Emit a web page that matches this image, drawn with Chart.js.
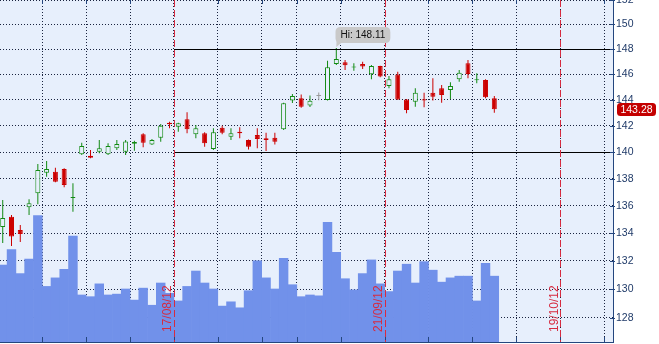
<!DOCTYPE html>
<html><head><meta charset="utf-8">
<script src="https://cdn.jsdelivr.net/npm/chart.js@4/dist/chart.umd.min.js"></script>
<style>html,body{margin:0;padding:0;background:#fff;overflow:hidden}#wrap{width:659px;height:344px;position:relative}</style>
</head><body><div id="wrap"><canvas id="c" width="659" height="344"></canvas></div>
<script>
// ---- data (daily candles, index 0..56) ----
const opens  = [134.44,135.19,134.22,135.88,136.91,138.45,138.52,138.72,136.56,139.83,139.72,140.02,139.83,140.28,140.02,140.63,141.35,140.58,141.09,142.24,141.93,142.50,141.35,141.43,140.23,141.86,141.17,141.55,140.91,141.30,141.04,141.09,141.73,143.95,144.13,143.56,144.31,144.00,146.83,146.97,146.55,146.83,146.01,146.67,145.09,145.99,144.03,143.87,144.05,144.57,144.91,144.78,145.62,146.88,145.54,145.56,144.13];
const highs  = [136.42,135.31,134.58,136.47,139.10,139.32,138.82,138.78,137.65,140.71,140.15,140.91,140.66,140.91,140.91,140.86,141.43,140.99,142.14,142.32,142.24,143.04,142.06,141.50,141.81,142.01,141.81,141.89,140.96,141.81,141.47,141.47,143.79,144.47,144.43,144.35,144.59,147.09,148.11,147.15,146.88,147.01,146.75,146.69,145.87,146.21,144.08,144.91,144.57,145.70,145.17,145.38,146.35,147.15,146.09,145.62,144.31];
const lows   = [133.28,133.07,133.36,135.31,136.10,138.15,137.73,137.35,135.56,139.78,139.53,139.90,139.78,140.15,139.78,140.10,140.36,140.53,140.78,141.81,141.55,141.43,141.04,140.40,140.15,141.35,140.91,141.04,140.20,140.28,140.07,140.58,141.68,143.77,143.40,143.46,143.98,143.95,146.75,146.35,146.29,146.43,145.62,145.78,144.91,144.00,142.97,143.48,143.43,143.95,143.79,144.08,145.43,145.70,145.30,144.13,143.01];
const closes = [135.10,133.74,133.93,136.18,138.65,138.72,137.77,137.53,136.62,140.45,139.57,140.28,140.45,140.61,140.81,140.76,140.71,140.91,142.01,142.12,142.19,141.73,141.81,140.66,141.50,141.47,141.43,141.43,140.40,140.99,140.91,140.78,143.74,144.31,143.48,143.93,144.31,146.57,147.23,146.73,146.59,146.62,146.67,145.83,145.62,144.04,143.22,144.57,143.95,144.26,144.39,145.09,146.14,146.04,145.58,144.21,143.28];
const volumes = [9.0,10.8,8.0,9.7,14.8,6.5,7.5,8.5,12.4,5.5,5.3,6.8,5.5,5.6,6.2,4.9,6.3,4.3,6.9,5.7,4.8,6.5,8.3,6.9,6.2,4.2,4.7,4.0,6.0,9.5,7.5,6.2,9.8,6.7,5.3,5.5,5.4,14.0,10.5,7.4,6.1,8.0,9.6,6.8,5.9,8.3,9.1,6.9,9.4,8.4,7.0,7.5,7.7,7.7,4.8,9.2,7.7];
const priceTicks = [128,130,132,134,136,138,140,142,144,146,148,150,152];
const weekBreaks = [4.5,9.5,14.5,19.5,24.5,29.5,33.5,38.5,43.5,48.5,53.5,58.5,63.5,68.5];
const expiryBreaks = [19.5,43.5,63.5];
const expiryLabels = ['17/08/12','21/09/12','19/10/12'];
const levelLines = [148,140];
const levelStart = 19.5;

// ---- derived ----
const idx = opens.map((_, i) => i);
const dir = idx.map(i => closes[i] > opens[i] ? 'up' : (closes[i] < opens[i] ? 'down' : 'flat'));
const BG = '#e7effc';
const lineCol = {up:'#128a12', down:'#cc0000', flat:'#9a9a9a'};
const fillCol = {up:BG, down:'#cc0000', flat:'#9a9a9a'};
const NAVY = '#24467e';
const FONT = '"Liberation Sans", Arial, sans-serif';

function rr(ctx, x, y, w, h, r) {
  ctx.beginPath();
  ctx.moveTo(x + r, y); ctx.lineTo(x + w - r, y); ctx.quadraticCurveTo(x + w, y, x + w, y + r);
  ctx.lineTo(x + w, y + h - r); ctx.quadraticCurveTo(x + w, y + h, x + w - r, y + h);
  ctx.lineTo(x + r, y + h); ctx.quadraticCurveTo(x, y + h, x, y + h - r);
  ctx.lineTo(x, y + r); ctx.quadraticCurveTo(x, y, x + r, y); ctx.closePath();
}

const decor = {
  id: 'decor',
  beforeDraw(chart) {
    const {ctx, chartArea: a} = chart;
    ctx.save(); ctx.fillStyle = BG; ctx.fillRect(a.left, a.top, a.right - a.left, a.bottom - a.top); ctx.restore();
  },
  afterDraw(chart) {
    const {ctx, chartArea: a} = chart;
    const xs = chart.scales.x, ys = chart.scales.y;
    ctx.save();
    ctx.beginPath(); ctx.rect(0, 0, chart.width, chart.height); ctx.clip();
    // level lines
    ctx.strokeStyle = '#000'; ctx.lineWidth = 1;
    levelLines.forEach(v => {
      const py = Math.round(ys.getPixelForValue(v)) + 0.5;
      ctx.beginPath(); ctx.moveTo(Math.round(xs.getPixelForValue(levelStart)), py); ctx.lineTo(a.right, py); ctx.stroke();
    });
    // week tick marks top/bottom
    ctx.strokeStyle = NAVY;
    weekBreaks.forEach(v => {
      const px = Math.round(xs.getPixelForValue(v)) + 0.5;
      ctx.beginPath(); ctx.moveTo(px, a.top); ctx.lineTo(px, a.top + 4); ctx.stroke();
      ctx.beginPath(); ctx.moveTo(px, a.bottom - 5); ctx.lineTo(px, a.bottom); ctx.stroke();
    });
    // price ticks across axis
    priceTicks.forEach(v => {
      const py = Math.round(ys.getPixelForValue(v)) + 0.5;
      ctx.beginPath(); ctx.moveTo(a.right - 3, py); ctx.lineTo(a.right + 2, py); ctx.stroke();
    });
    // expiry lines
    ctx.strokeStyle = '#d62b40'; ctx.setLineDash([7, 3]);
    expiryBreaks.forEach(v => {
      const px = Math.round(xs.getPixelForValue(v)) + 0.5;
      ctx.beginPath(); ctx.moveTo(px, a.top); ctx.lineTo(px, a.bottom); ctx.stroke();
    });
    ctx.setLineDash([]);
    ctx.fillStyle = '#d62b40'; ctx.font = '12px ' + FONT; ctx.textAlign = 'left'; ctx.textBaseline = 'alphabetic';
    expiryBreaks.forEach((v, k) => {
      const px = xs.getPixelForValue(v);
      ctx.save(); ctx.translate(px - 2.5, a.bottom - 10); ctx.rotate(-Math.PI / 2);
      ctx.fillText(expiryLabels[k], 0, 0); ctx.restore();
    });
    // Hi label
    const hiVal = Math.max(...highs), hiIdx = highs.indexOf(hiVal);
    const hx = xs.getPixelForValue(hiIdx), hy = ys.getPixelForValue(hiVal);
    const hiText = 'Hi: ' + hiVal.toFixed(2);
    ctx.font = '10px ' + FONT;
    const tw = ctx.measureText(hiText).width;
    const bx = Math.round(hx) - 0.5, by = Math.round(hy - 21), bw = tw + 10, bh = 16;
    ctx.fillStyle = '#c9c9c9';
    rr(ctx, bx, by, bw, bh, 5); ctx.fill();
    ctx.beginPath(); ctx.moveTo(bx + 1, by + bh - 3); ctx.lineTo(bx + 7, by + bh - 1); ctx.lineTo(hx, hy - 1); ctx.closePath(); ctx.fill();
    ctx.fillStyle = '#111'; ctx.textAlign = 'center'; ctx.textBaseline = 'middle';
    ctx.fillText(hiText, bx + bw / 2, by + bh / 2 + 0.5);
    // last price label
    const last = closes[closes.length - 1];
    const ly = ys.getPixelForValue(last);
    ctx.font = '10.5px ' + FONT;
    const lt = last.toFixed(2);
    ctx.fillStyle = '#c40000';
    rr(ctx, a.right + 4, Math.round(ly - 6.5), 39, 13, 3.5); ctx.fill();
    ctx.fillStyle = '#fff';
    ctx.fillText(lt, a.right + 4 + 19.5, Math.round(ly - 6.5) + 7);
    ctx.restore();
  }
};

new Chart(document.getElementById('c'), {
  type: 'bar',
  data: {
    datasets: [
      { label: 'Volume', data: idx.map(i => ({x: i, y: volumes[i]})), yAxisID: 'vol', xAxisID: 'x',
        backgroundColor: '#7191ea', borderWidth: 0, categoryPercentage: 1, barPercentage: 1, grouped: false, order: 3 },
      { label: 'Wick', data: idx.map(i => ({x: i, y: [lows[i], highs[i]]})), yAxisID: 'y', xAxisID: 'x',
        backgroundColor: idx.map(i => lineCol[dir[i]]), borderWidth: 0, barThickness: 1, inflateAmount: 0, grouped: false, order: 2 },
      { label: 'Body', data: idx.map(i => ({x: i, y: [opens[i], closes[i]]})), yAxisID: 'y', xAxisID: 'x',
        backgroundColor: idx.map(i => fillCol[dir[i]]), borderColor: idx.map(i => lineCol[dir[i]]),
        borderWidth: 1, borderSkipped: false, barThickness: 5, minBarLength: 1, inflateAmount: 0, grouped: false, order: 1 }
    ]
  },
  options: {
    responsive: false, animation: false, devicePixelRatio: 1,
    layout: { padding: 0 },
    plugins: { legend: { display: false }, tooltip: { enabled: false } },
    scales: {
      x: {
        type: 'linear', min: -0.31, max: 69.52, offset: false, position: 'bottom', z: 1,
        afterBuildTicks: s => { s.ticks = weekBreaks.map(v => ({value: v})); },
        afterFit: s => { s.height = 2; s.paddingLeft = 0; s.paddingRight = 0; },
        ticks: { display: false },
        grid: { offset: false, drawTicks: false, color: '#1b2440', lineWidth: 1 },
        border: { display: true, color: NAVY, width: 1, dash: [1, 2] }
      },
      y: {
        type: 'logarithmic', position: 'right', min: 126.33, max: 152.0, bounds: 'data', z: 1,
        afterBuildTicks: s => { s.ticks = priceTicks.map(v => ({value: v})); },
        afterFit: s => { s.width = 46; s.paddingTop = 0; s.paddingBottom = 0; },
        ticks: { padding: 3, color: '#1f3a68', font: { family: FONT, size: 10.5 }, callback: v => String(v) },
        grid: { drawTicks: false, color: '#1b2440', lineWidth: 1 },
        border: { display: true, color: NAVY, width: 1, dash: [1, 2] }
      },
      vol: { type: 'linear', display: false, min: 0, max: 40 }
    }
  },
  plugins: [decor]
});
</script>
</body></html>
